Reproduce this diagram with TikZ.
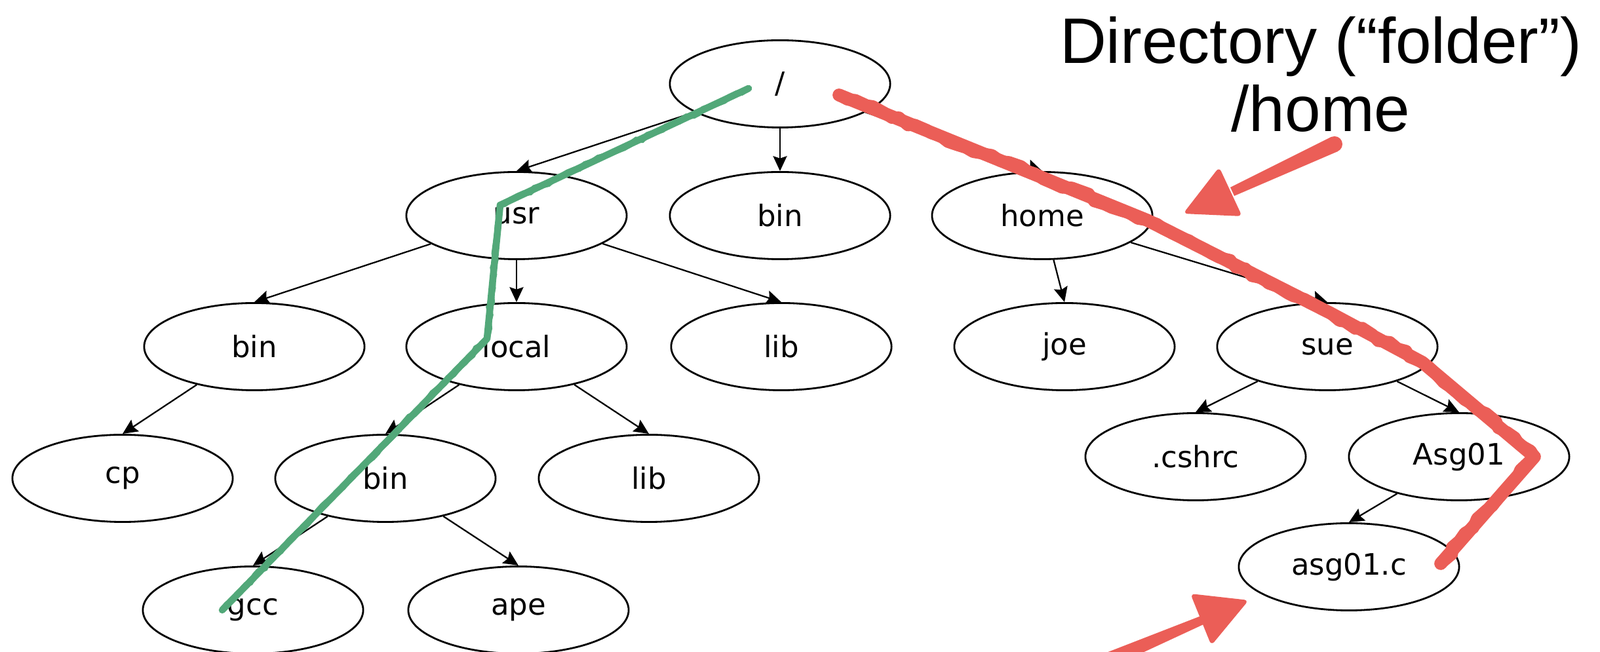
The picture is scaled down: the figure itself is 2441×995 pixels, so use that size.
\documentclass[tikz,border=0pt]{standalone}
\usepackage{fontspec}
\setmainfont{DejaVu Sans}
\newfontfamily\headfont{Liberation Sans}
\usetikzlibrary{shapes.geometric,arrows.meta,decorations.pathmorphing}
\definecolor{hlred}{RGB}{235,94,87}
\definecolor{hlgreen}{RGB}{82,168,121}
\begin{document}
\begin{tikzpicture}[x=0.01cm,y=-0.01cm,
  fnode/.style={ellipse,draw,line width=0.8pt,fill=white,minimum width=3.36cm,minimum height=1.33cm,inner sep=0pt,font=\fontsize{12.8}{15}\selectfont},
  tedge/.style={line width=0.65pt,-{Stealth[length=6.5pt,width=6pt,inset=1pt]}},
  redmark/.style={hlred,line width=5.6pt,line cap=round,line join=round},
  redrough/.style={hlred,line width=5.2pt,line cap=round,line join=round,decorate,decoration={random steps,segment length=4pt,amplitude=1.1pt}},
  greenmark/.style={hlgreen,line width=3pt,line cap=round,line join=round},
  greenrough/.style={hlgreen,line width=2.6pt,line cap=round,decorate,decoration={random steps,segment length=3pt,amplitude=0.6pt}},
  headtext/.style={font=\headfont\fontsize{27.9}{29.5}\selectfont,align=center,inner sep=0pt}
]
\useasboundingbox (0,0) rectangle (2441,995);
\clip (0,0) rectangle (2441,995);

% nodes
\node[fnode] (root) at (1190,128) {/};
\node[fnode] (usr) at (788,329) {usr};
\node[fnode] (bin1) at (1190,329) {bin};
\node[fnode] (home) at (1590,329) {home};
\node[fnode] (bin2) at (388,529) {bin};
\node[fnode] (local) at (788,529) {local};
\node[fnode] (lib2) at (1192,529) {lib};
\node[fnode] (joe) at (1624,529) {joe};
\node[fnode] (sue) at (2025,529) {sue};
\node[fnode] (cp) at (187,730) {cp};
\node[fnode] (bin3) at (588,730) {bin};
\node[fnode] (lib3) at (990,730) {lib};
\node[fnode] (cshrc) at (1824,697) {.cshrc};
\node[fnode] (asg) at (2226,697) {Asg01};
\node[fnode] (gcc) at (386,931) {gcc};
\node[fnode] (ape) at (791,931) {ape};
\node[fnode] (asgc) at (2058,865) {asg01.c};

% edges
\draw[tedge] (root) -- (usr.north);
\draw[tedge] (root) -- (bin1.north);
\draw[tedge] (root) -- (home.north);
\draw[tedge] (usr) -- (bin2.north);
\draw[tedge] (usr) -- (local.north);
\draw[tedge] (usr) -- (lib2.north);
\draw[tedge] (home) -- (joe.north);
\draw[tedge] (home) -- (sue.north);
\draw[tedge] (bin2) -- (cp.north);
\draw[tedge] (local) -- (bin3.north);
\draw[tedge] (local) -- (lib3.north);
\draw[tedge] (bin3) -- (gcc.north);
\draw[tedge] (bin3) -- (ape.north);
\draw[tedge] (sue) -- (cshrc.north);
\draw[tedge] (sue) -- (asg.north);
\draw[tedge] (asg) -- (asgc.north);

% title
\node[headtext,anchor=north] (title) at (2015,25) {Directory (“folder”)\\/home};

% green path
\coordinate (g0) at (1142,135);
\coordinate (g1) at (763,313);
\coordinate (g2) at (743,517);
\coordinate (g3) at (339,931);
\draw[greenmark] (g0) -- (g1) -- (g2) -- (g3);
\draw[greenrough] (g0) -- (g1) -- (g2) -- (g3);

% red path
\coordinate (r0) at (1280,145);
\coordinate (r1) at (1750,336);
\coordinate (r2) at (2030,478);
\coordinate (r3) at (2170,553);
\coordinate (r4) at (2341,697);
\coordinate (r5) at (2198,860);
\draw[redmark] (r0) -- (r1) -- (r2) -- (r3) -- (r4) -- (r5);
\draw[redrough] (r0) -- (r1) -- (r2) -- (r3) -- (r4) -- (r5);

% red arrow to home
\fill[hlred] (2041,231) -- (2031,209) -- (1877,286) -- (1883,299) -- cycle;
\fill[hlred] (2036,220) circle[radius=12];
\fill[hlred,rounded corners=2pt] (1860,255) -- (1805,326) -- (1895,330) -- cycle;

% red arrow to asg01.c
\fill[hlred] (1685,1023) -- (1675,1001) -- (1832,940) -- (1838,952) -- cycle;
\fill[hlred,rounded corners=2pt] (1816,906) -- (1905,916) -- (1848,985) -- cycle;
\end{tikzpicture}
\end{document}
